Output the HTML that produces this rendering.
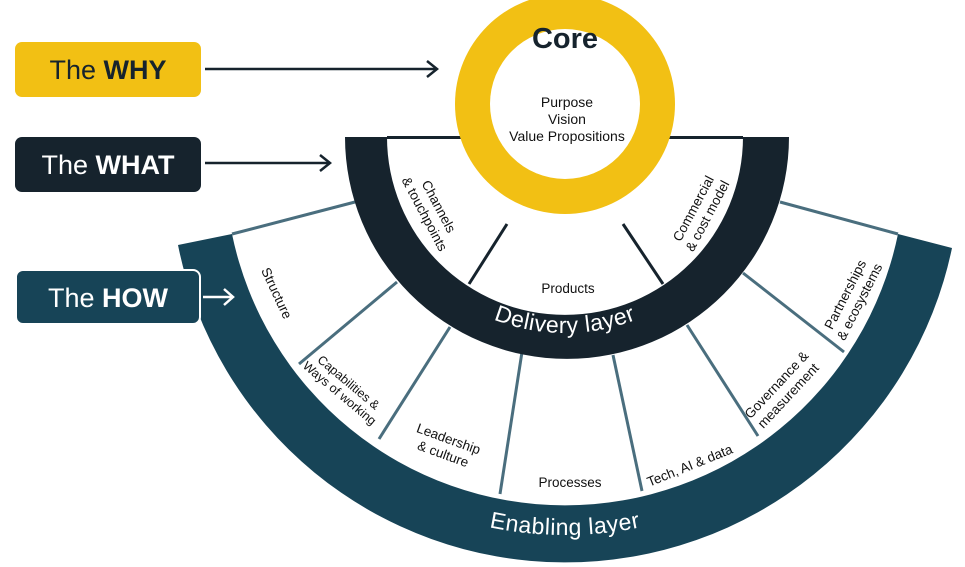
<!DOCTYPE html>
<html><head><meta charset="utf-8"><style>
html,body{margin:0;padding:0;background:#fff}
svg{display:block}
text{font-family:"Liberation Sans",sans-serif}
</style></head><body>
<svg width="965" height="567" viewBox="0 0 965 567" xmlns="http://www.w3.org/2000/svg">
<defs>
<path id="dl" d="M 369 137 A 196 196 0 0 0 761 137"/>
<path id="el" d="M 195 165 A 370 370 0 0 0 935 165"/>
</defs>
<path d="M 178 245 A 395 395 0 0 0 952 248 L 898 234 A 340 340 0 0 1 232 234 Z" fill="#174457"/>
<g stroke="#4a6e7e" stroke-width="3" fill="none">
<line x1="232" y1="234" x2="355" y2="202"/>
<line x1="780" y1="202" x2="898" y2="234"/>
<line x1="397" y1="282" x2="299" y2="364"/>
<line x1="450" y1="327" x2="379" y2="439"/>
<line x1="522" y1="352" x2="500" y2="494"/>
<line x1="613" y1="355" x2="642" y2="491"/>
<line x1="687" y1="325" x2="758" y2="436"/>
<line x1="743" y1="273" x2="844" y2="352"/>
</g>
<path d="M 345 137 A 222 222 0 0 0 789 137 L 743 137 A 178 178 0 0 1 387 137 Z" fill="#16232d"/>
<line x1="387" y1="137.5" x2="743" y2="137.5" stroke="#16232d" stroke-width="3"/>
<g stroke="#16232d" stroke-width="3">
<line x1="507" y1="224" x2="469" y2="284"/>
<line x1="623" y1="224" x2="663" y2="284"/>
</g>
<circle cx="565" cy="104" r="110" fill="#f2c014"/>
<circle cx="565" cy="104" r="75" fill="#fff"/>
<text x="565" y="48" font-size="29" font-weight="bold" text-anchor="middle" fill="#16232d">Core</text>
<g font-size="14" text-anchor="middle" fill="#111">
<text x="567" y="107">Purpose</text>
<text x="567" y="124">Vision</text>
<text x="567" y="141">Value Propositions</text>
</g>
<g font-size="13.5" fill="#111" text-anchor="middle">
<text transform="translate(432,210) rotate(62)"><tspan x="0" y="-3">Channels</tspan><tspan x="0" y="13">&amp; touchpoints</tspan></text>
<text transform="translate(700,212) rotate(-62)"><tspan x="0" y="-3">Commercial</tspan><tspan x="0" y="13">&amp; cost model</tspan></text>
<text x="568" y="293">Products</text>
<text transform="translate(277,293) rotate(65)" y="5">Structure</text>
<text font-size="12.5" transform="translate(344,388) rotate(40)"><tspan x="0" y="-3">Capabilities &amp;</tspan><tspan x="0" y="11">Ways of working</tspan></text>
<text transform="translate(446,446) rotate(20)"><tspan x="0" y="-3">Leadership</tspan><tspan x="0" y="13">&amp; culture</tspan></text>
<text x="570" y="487">Processes</text>
<text transform="translate(690,466) rotate(-22)" y="4">Tech, AI &amp; data</text>
<text transform="translate(782,390) rotate(-47)"><tspan x="0" y="-3">Governance &amp;</tspan><tspan x="0" y="13">measurement</tspan></text>
<text transform="translate(852,298) rotate(-63)"><tspan x="0" y="-3">Partnerships</tspan><tspan x="0" y="13">&amp; ecosystems</tspan></text>
</g>
<text font-size="23" fill="#fff" letter-spacing="0.5"><textPath href="#dl" startOffset="50%" text-anchor="middle">Delivery layer</textPath></text>
<text font-size="23" fill="#fff" letter-spacing="0.5"><textPath href="#el" startOffset="50%" text-anchor="middle">Enabling layer</textPath></text>
<rect x="15" y="42" width="186" height="55" rx="7" fill="#f2c014"/>
<text x="108" y="79" font-size="27" text-anchor="middle" fill="#16232d">The <tspan font-weight="bold">WHY</tspan></text>
<line x1="205" y1="69" x2="436" y2="69" stroke="#16232d" stroke-width="2.5"/>
<path d="M 427 61 L 437 69 L 427 77" fill="none" stroke="#16232d" stroke-width="2.5"/>
<rect x="15" y="137" width="186" height="55" rx="7" fill="#16232d"/>
<text x="108" y="174" font-size="27" text-anchor="middle" fill="#fff">The <tspan font-weight="bold">WHAT</tspan></text>
<line x1="205" y1="163" x2="329" y2="163" stroke="#16232d" stroke-width="2.5"/>
<path d="M 320 155 L 330 163 L 320 171" fill="none" stroke="#16232d" stroke-width="2.5"/>
<rect x="16" y="270" width="184" height="54" rx="7" fill="#174457" stroke="#fff" stroke-width="2"/>
<text x="108" y="307" font-size="27" text-anchor="middle" fill="#fff">The <tspan font-weight="bold">HOW</tspan></text>
<line x1="203" y1="297" x2="232" y2="297" stroke="#fff" stroke-width="2.5"/>
<path d="M 224 289 L 233 297 L 224 305" fill="none" stroke="#fff" stroke-width="2.5"/>
</svg>
</body></html>
